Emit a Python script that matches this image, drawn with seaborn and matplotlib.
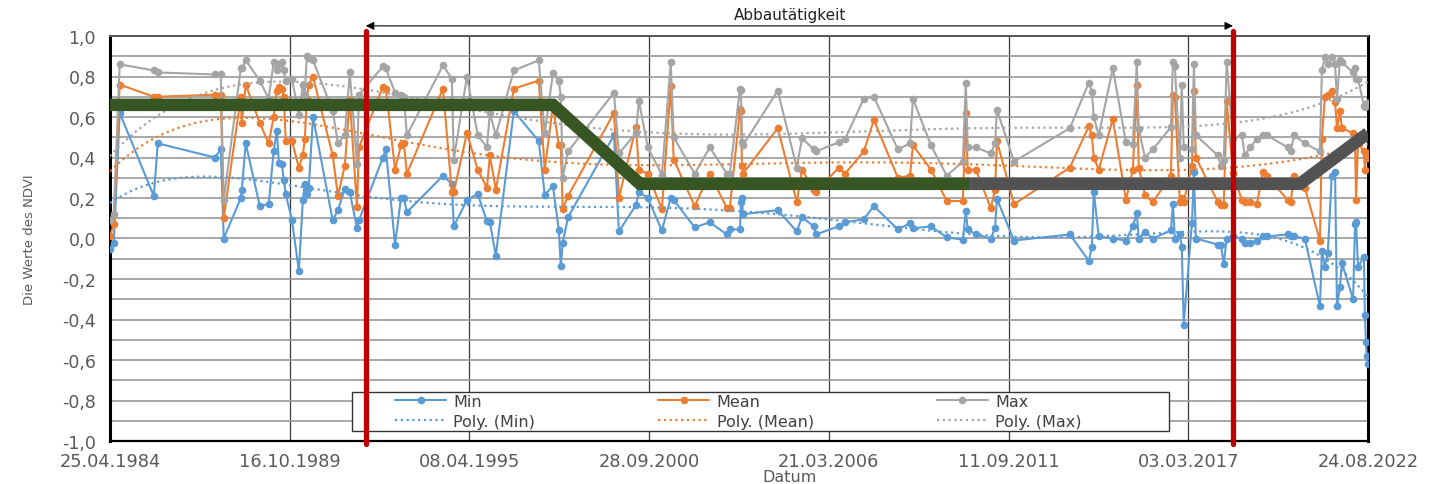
import matplotlib
matplotlib.use('Agg')
import matplotlib.pyplot as plt
import matplotlib.dates as mdates
from matplotlib.lines import Line2D
from matplotlib.patches import Rectangle
from matplotlib.ticker import FuncFormatter, MultipleLocator
import numpy as np
import pandas as pd
import seaborn as sns

# ======== data =======================================
date_years = [
    1984.31, 1984.43, 1984.61, 1985.65, 1985.77, 1987.51, 1987.69, 1987.78,
    1988.30, 1988.33, 1988.45, 1988.88, 1989.15, 1989.30, 1989.40, 1989.46,
    1989.55, 1989.61, 1989.67, 1989.86, 1990.07, 1990.19, 1990.25, 1990.31,
    1990.37, 1990.50, 1991.10, 1991.26, 1991.47, 1991.62, 1991.84, 1991.90,
    1992.63, 1992.72, 1993.00, 1993.18, 1993.27, 1993.36, 1994.46, 1994.73,
    1994.79, 1995.19, 1995.52, 1995.80, 1995.89, 1996.07, 1996.62, 1997.38,
    1997.56, 1997.81, 1997.99, 1998.05, 1998.11, 1998.27, 1999.67, 1999.82,
    2000.34, 2000.43, 2000.70, 2001.13, 2001.40, 2001.49, 2002.13, 2002.59,
    2003.11, 2003.20, 2003.51, 2003.54, 2003.57, 2003.60, 2004.66, 2005.24,
    2005.40, 2005.76, 2005.82, 2006.52, 2006.71, 2007.28, 2007.59, 2008.32,
    2008.69, 2008.78, 2009.33, 2009.81, 2010.30, 2010.39, 2010.45, 2010.70,
    2011.15, 2011.28, 2011.34, 2011.86, 2013.56, 2014.14, 2014.23, 2014.29,
    2014.44, 2014.87, 2015.27, 2015.48, 2015.60, 2015.66, 2015.85, 2016.09,
    2016.64, 2016.70, 2016.76, 2016.91, 2016.97, 2017.03, 2017.28, 2017.34,
    2017.40, 2018.07, 2018.16, 2018.25, 2018.34, 2018.53, 2018.80, 2018.89,
    2019.05, 2019.26, 2019.44, 2019.56, 2020.20, 2020.29, 2020.39, 2020.72,
    2021.18, 2021.24, 2021.33, 2021.42, 2021.54, 2021.64, 2021.70, 2021.79,
    2021.85, 2022.19, 2022.25, 2022.28, 2022.34, 2022.52, 2022.55, 2022.58,
    2022.61, 2022.64,
]

ndvi_min = [
    -0.05, -0.02, 0.62, 0.21, 0.47, 0.40, 0.44, 0.00,
    0.20, 0.24, 0.47, 0.16, 0.17, 0.43, 0.53, 0.375,
    0.37, 0.29, 0.22, 0.09, -0.16, 0.19, 0.27, 0.22,
    0.25, 0.60, 0.09, 0.14, 0.245, 0.23, 0.05, 0.09,
    0.40, 0.44, -0.03, 0.20, 0.20, 0.13, 0.31, 0.27,
    0.06, 0.19, 0.22, 0.085, 0.08, -0.085, 0.63, 0.48,
    0.215, 0.26, 0.04, -0.135, -0.02, 0.105, 0.51, 0.035,
    0.165, 0.23, 0.20, 0.04, 0.20, 0.19, 0.055, 0.08,
    0.02, 0.045, 0.045, 0.18, 0.20, 0.12, 0.14, 0.035,
    0.105, 0.06, 0.02, 0.06, 0.08, 0.095, 0.16, 0.045,
    0.075, 0.05, 0.06, 0.005, -0.005, 0.135, 0.045, 0.02,
    0.00, 0.05, 0.195, -0.01, 0.02, -0.11, -0.04, 0.23,
    0.01, 0.00, -0.01, 0.06, 0.125, 0.00, 0.03, 0.00,
    0.04, 0.17, 0.00, 0.02, -0.04, -0.425, 0.075, 0.33,
    0.00, -0.03, -0.03, -0.125, 0.00, 0.01, 0.00, -0.02,
    -0.02, -0.01, 0.01, 0.01, 0.02, 0.01, 0.01, 0.00,
    -0.335, -0.06, -0.14, -0.07, 0.31, 0.33, -0.335, -0.24,
    -0.12, -0.30, 0.07, 0.08, -0.14, -0.09, -0.38, -0.51,
    -0.58, -0.62,
]

ndvi_mean = [
    0.01, 0.07, 0.76, 0.70, 0.70, 0.71, 0.71, 0.10,
    0.70, 0.57, 0.76, 0.57, 0.47, 0.60, 0.73, 0.75,
    0.74, 0.70, 0.48, 0.48, 0.35, 0.41, 0.49, 0.69,
    0.76, 0.80, 0.41, 0.21, 0.36, 0.69, 0.155, 0.45,
    0.75, 0.74, 0.34, 0.46, 0.47, 0.32, 0.74, 0.23,
    0.23, 0.52, 0.34, 0.25, 0.41, 0.24, 0.74, 0.78,
    0.34, 0.655, 0.46, 0.46, 0.145, 0.21, 0.62, 0.20,
    0.55, 0.34, 0.32, 0.145, 0.755, 0.39, 0.16, 0.32,
    0.15, 0.15, 0.64, 0.63, 0.36, 0.32, 0.545, 0.18,
    0.34, 0.24, 0.23, 0.35, 0.32, 0.43, 0.585, 0.30,
    0.31, 0.46, 0.34, 0.185, 0.185, 0.62, 0.34, 0.34,
    0.15, 0.24, 0.48, 0.17, 0.35, 0.555, 0.51, 0.40,
    0.34, 0.59, 0.19, 0.34, 0.76, 0.35, 0.215, 0.18,
    0.31, 0.71, 0.70, 0.18, 0.20, 0.18, 0.36, 0.73,
    0.40, 0.18, 0.165, 0.165, 0.68, 0.325, 0.19, 0.18,
    0.18, 0.17, 0.33, 0.31, 0.19, 0.18, 0.31, 0.25,
    -0.01, 0.49, 0.70, 0.71, 0.73, 0.675, 0.545, 0.63,
    0.545, 0.52, 0.50, 0.19, 0.47, 0.43, 0.34, 0.41,
    0.40, 0.42,
]

ndvi_max = [
    0.09, 0.12, 0.86, 0.83, 0.82, 0.81, 0.81, 0.19,
    0.84, 0.84, 0.88, 0.78, 0.69, 0.87, 0.83, 0.86,
    0.87, 0.83, 0.78, 0.79, 0.61, 0.76, 0.71, 0.90,
    0.89, 0.88, 0.63, 0.47, 0.51, 0.82, 0.37, 0.71,
    0.85, 0.84, 0.72, 0.71, 0.70, 0.51, 0.855, 0.79,
    0.39, 0.80, 0.51, 0.45, 0.62, 0.51, 0.83, 0.88,
    0.52, 0.815, 0.78, 0.70, 0.30, 0.43, 0.72, 0.42,
    0.52, 0.68, 0.45, 0.315, 0.87, 0.50, 0.32, 0.45,
    0.32, 0.32, 0.74, 0.735, 0.475, 0.46, 0.73, 0.35,
    0.495, 0.44, 0.43, 0.475, 0.49, 0.69, 0.70, 0.44,
    0.47, 0.69, 0.46, 0.31, 0.38, 0.77, 0.45, 0.45,
    0.42, 0.47, 0.635, 0.38, 0.545, 0.77, 0.725, 0.60,
    0.51, 0.84, 0.475, 0.465, 0.87, 0.54, 0.40, 0.44,
    0.55, 0.87, 0.85, 0.40, 0.76, 0.45, 0.44, 0.86,
    0.51, 0.41, 0.36, 0.39, 0.87, 0.495, 0.51, 0.41,
    0.45, 0.49, 0.51, 0.51, 0.45, 0.43, 0.51, 0.47,
    0.43, 0.83, 0.895, 0.86, 0.895, 0.86, 0.69, 0.88,
    0.87, 0.82, 0.84, 0.79, 0.79, 0.655, 0.65, 0.66,
    0.67, 0.67,
]

series_names = ['Min', 'Mean', 'Max']
series_colors = ['#5B9BD5', '#ED7D31', '#A5A5A5']

# mining period (red bars + arrow)
mining_years = [1992.11, 2018.53]
mining_label = 'Abbautätigkeit'

# schematic phases (thick lines)
phase_green_years = [1984.31, 1997.81, 2000.46, 2010.52]
phase_green_levels = [0.66, 0.66, 0.27, 0.27]
phase_gray_years = [2010.52, 2020.57, 2022.64]
phase_gray_levels = [0.27, 0.27, 0.52]

x_start = '1984-04-25'
x_end = '2022-08-24'
tick_step = '2000D'
poly_order = 6


def to_dates(years):
    years = np.asarray(years, dtype=float)
    return pd.Timestamp('1984-01-01') + pd.to_timedelta((years - 1984) * 365.25, unit='D')


# ======== plot =======================================
sns.set_style('white')
plt.rcParams['font.family'] = ['DejaVu Sans']

fig = plt.figure(figsize=(14.29, 4.85), dpi=100)
ax = fig.add_axes([110 / 1429, 43 / 485, 1258 / 1429, 405 / 485])

dates = to_dates(date_years)
df = pd.DataFrame({'Datum': dates, 'Min': ndvi_min, 'Mean': ndvi_mean, 'Max': ndvi_max})
df_long = df.melt(id_vars='Datum', var_name='Serie', value_name='NDVI')
palette = dict(zip(series_names, series_colors))

sns.lineplot(data=df_long, x='Datum', y='NDVI', hue='Serie', hue_order=series_names,
             palette=palette, marker='o', markersize=5.5, markeredgewidth=0,
             linewidth=1.5, estimator=None, sort=False, legend=False, ax=ax, zorder=3)

# polynomial trendlines
t = np.asarray(date_years)
t_mean, t_std = t.mean(), t.std()
grid_years = np.linspace(1984.31, 2022.64, 400)
grid_dates = to_dates(grid_years)
dot_style = (0, (1, 1.6))
for name, color in zip(series_names, series_colors):
    coef = np.polyfit((t - t_mean) / t_std, df[name].values, poly_order)
    trend = np.polyval(coef, (grid_years - t_mean) / t_std)
    ax.plot(grid_dates, trend, color=color, lw=1.6, ls=dot_style, zorder=4)

# thick phase lines
ax.plot(to_dates(phase_green_years), phase_green_levels, color='#375623', lw=9,
        solid_joinstyle='miter', solid_capstyle='butt', zorder=5)
ax.plot(to_dates(phase_gray_years), phase_gray_levels, color='#525252', lw=9,
        solid_joinstyle='miter', solid_capstyle='butt', zorder=5)

# mining period
mining_dates = to_dates(mining_years)
for d in mining_dates:
    ax.axvline(d, ymin=-0.008, ymax=1.012, color='#C00000', lw=3.8, clip_on=False, zorder=8)
ax.annotate('', xy=(mining_dates[1], 1.025), xytext=(mining_dates[0], 1.025),
            xycoords=('data', 'axes fraction'), textcoords=('data', 'axes fraction'),
            arrowprops=dict(arrowstyle='<|-|>', color='black', lw=0.8,
                            mutation_scale=12, shrinkA=0, shrinkB=0),
            annotation_clip=False)
ax.text(to_dates([2005.03])[0], 1.054, mining_label, transform=ax.get_xaxis_transform(),
        ha='center', va='center', fontsize=11, color='#222222')

# axes
ax.set_xlim(pd.Timestamp(x_start), pd.Timestamp(x_end))
ax.set_ylim(-1.0, 1.0)
ax.set_xticks(pd.date_range(x_start, periods=8, freq=tick_step))
ax.xaxis.set_major_formatter(mdates.DateFormatter('%d.%m.%Y'))
ax.yaxis.set_major_locator(MultipleLocator(0.2))
ax.yaxis.set_minor_locator(MultipleLocator(0.1))
ax.yaxis.set_major_formatter(FuncFormatter(
    lambda v, p: f'{0.0 if abs(v) < 1e-9 else v:.1f}'.replace('.', ',')))

ax.grid(axis='y', which='both', color='#9a9a9a', lw=1.2, zorder=0)
ax.grid(axis='x', which='major', color='#3a3a3a', lw=0.9, zorder=0)
ax.set_axisbelow(True)

ax.tick_params(axis='y', which='both', length=4, width=1, color='#333333', direction='out',
               labelsize=12.5, labelcolor='#595959', pad=6)
ax.tick_params(axis='x', length=0, labelsize=12.8, labelcolor='#595959', pad=8)

for side, lw, col in [('left', 2.2, 'black'), ('right', 2.2, 'black'),
                      ('bottom', 1.6, 'black'), ('top', 1.4, '#555555')]:
    ax.spines[side].set_visible(True)
    ax.spines[side].set_linewidth(lw)
    ax.spines[side].set_color(col)

ax.set_xlabel('Datum', fontsize=11.5, color='#595959')
ax.xaxis.set_label_coords(0.5405, -0.068)
ax.set_ylabel('')
fig.text(30 / 1429, 1 - 240 / 485, 'Die Werte des NDVI', rotation=90, ha='center', va='center',
         fontsize=9.5, color='#595959')

# legend: own frame + frameless legend inside
ax.add_patch(Rectangle((0.1924, 0.0247), 0.6494, 0.0963, transform=ax.transAxes,
                       facecolor='white', edgecolor='#333333', lw=1.0, zorder=6,
                       clip_on=False))
handles, labels = [], []
for name, color in zip(series_names, series_colors):
    handles.append(Line2D([], [], color=color, lw=1.5, marker='o', markersize=5.5,
                          markeredgewidth=0))
    labels.append(name)
    handles.append(Line2D([], [], color=color, lw=1.6, ls=dot_style))
    labels.append(f'Poly. ({name})')
leg = ax.legend(handles, labels, ncol=3, loc='center left',
                bbox_to_anchor=(0.2266, 0.0735), frameon=False,
                borderaxespad=0, borderpad=0, handlelength=3.2, handletextpad=0.45,
                labelspacing=0.3, columnspacing=7.7,
                fontsize=11.5, labelcolor='#404040')
leg.set_zorder(7)

fig.savefig('out.png', dpi=100)
plt.close()
